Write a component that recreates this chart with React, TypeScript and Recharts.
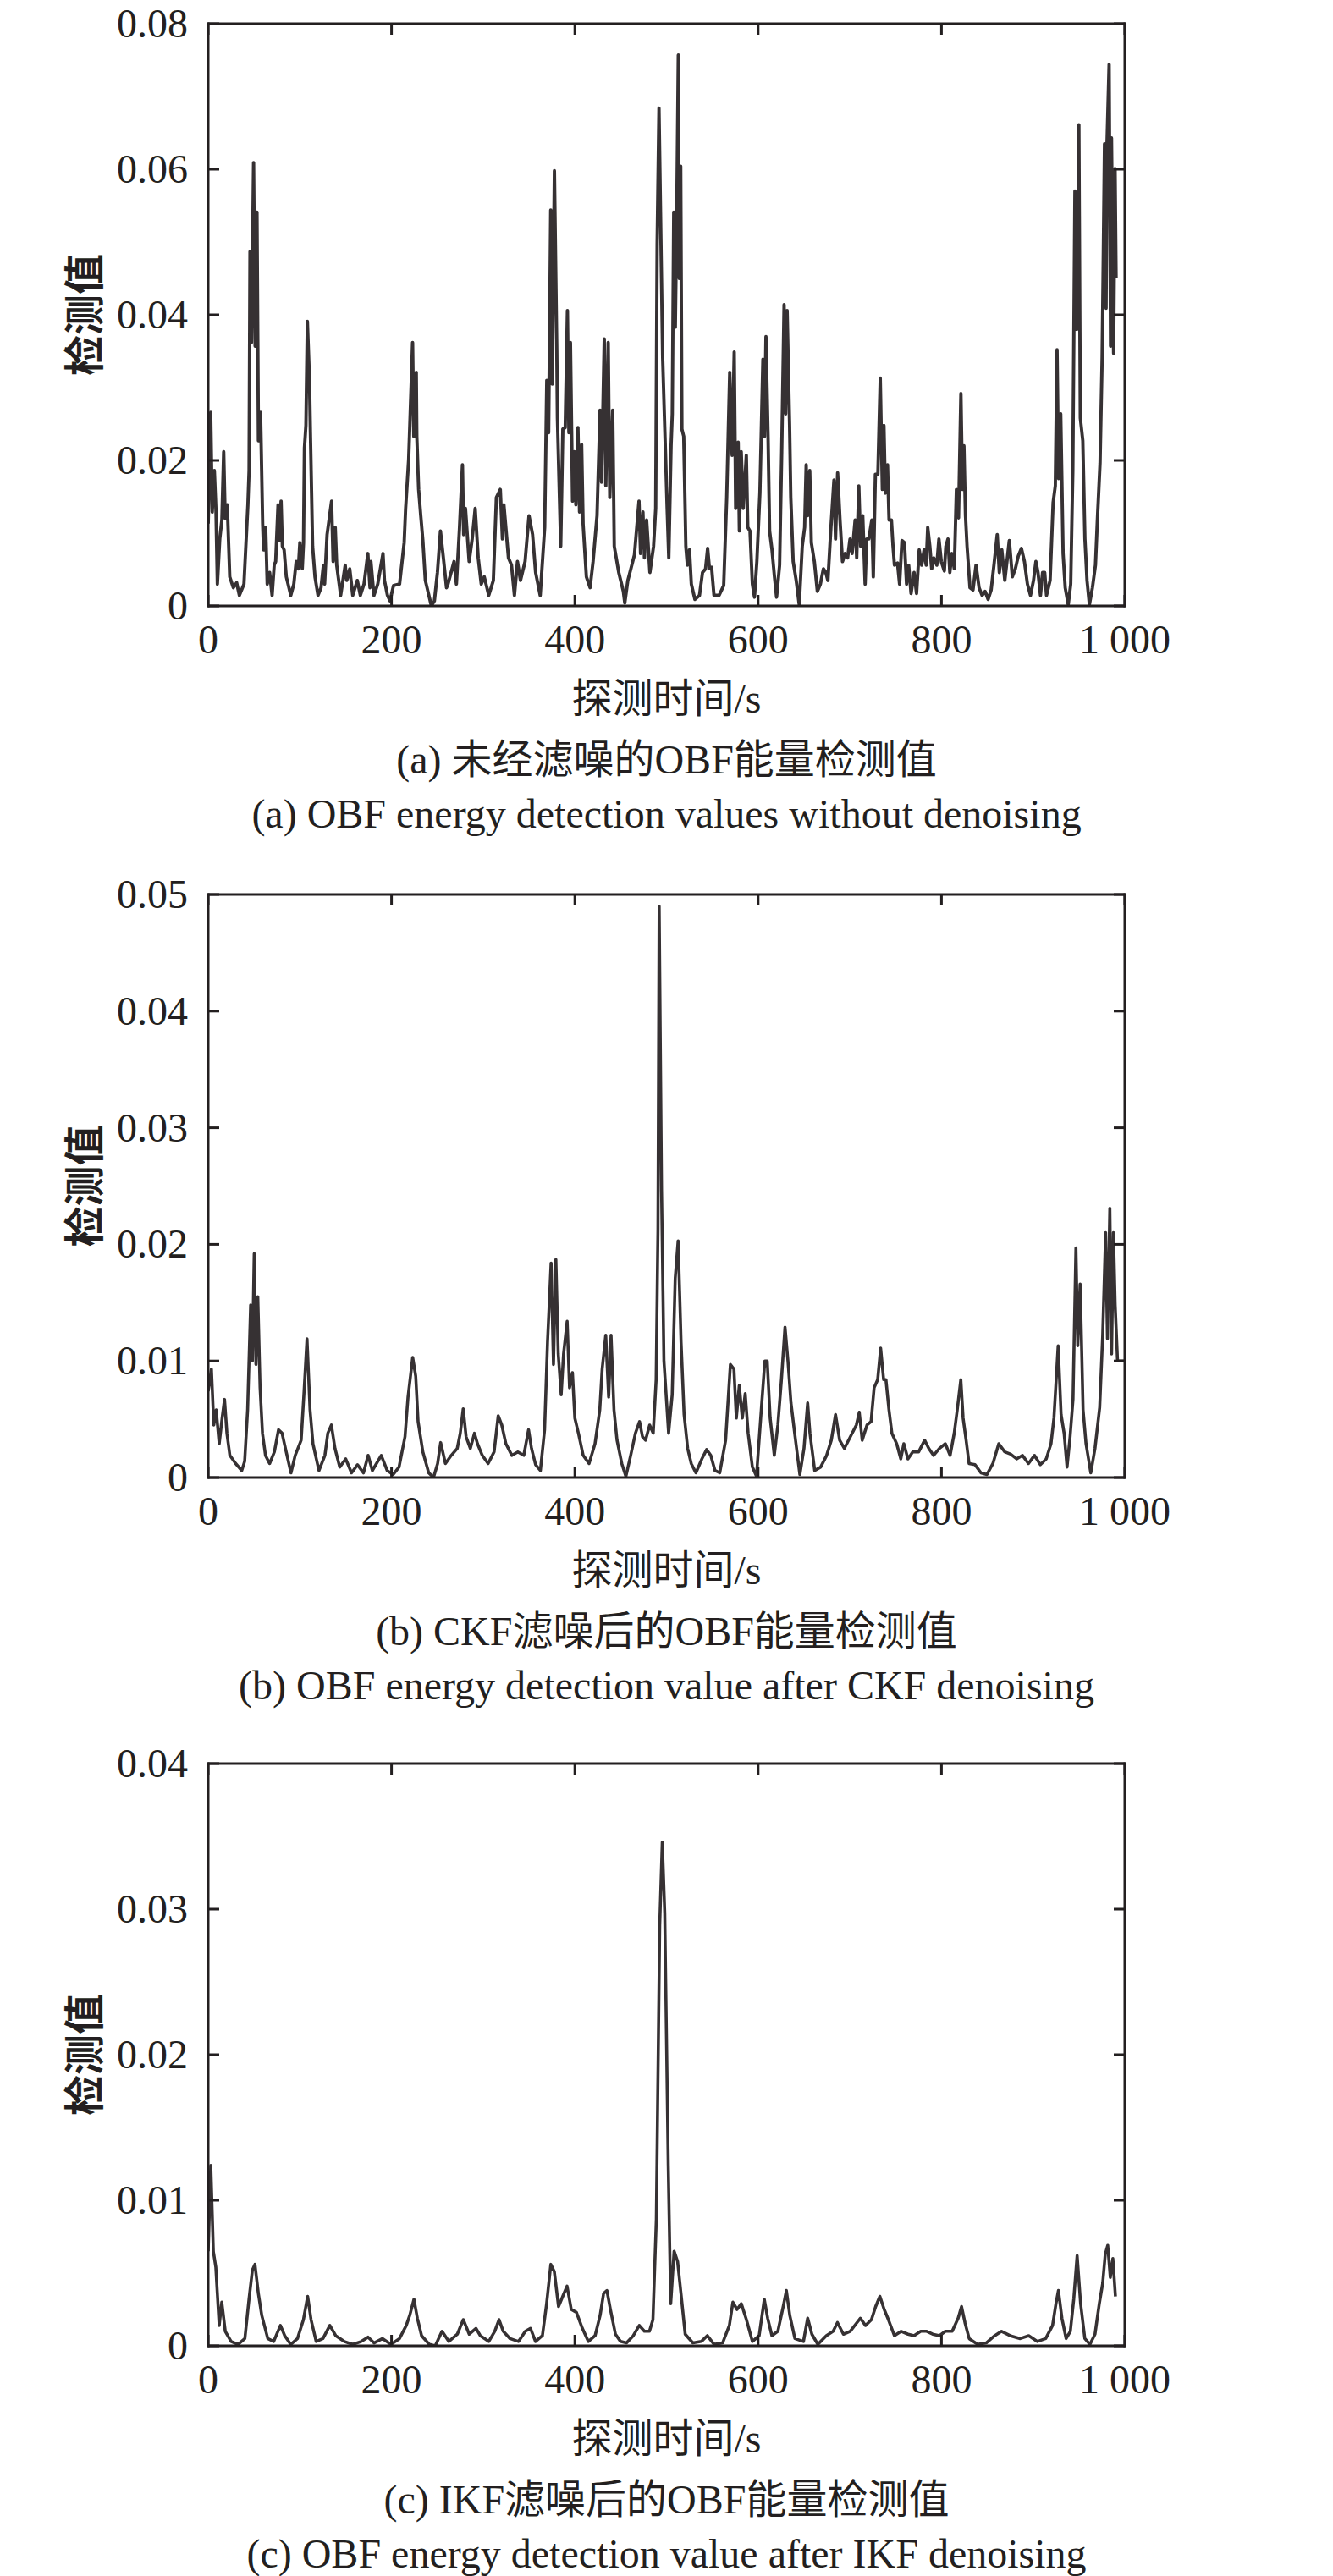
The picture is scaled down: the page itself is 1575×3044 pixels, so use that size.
import React from 'react';
import { LineChart, Line, XAxis, YAxis } from 'recharts';

// ---------- tick values & labels ----------
const X_TICKS = [0, 200, 400, 600, 800, 1000];
const X_TICK_LABELS = ['0', '200', '400', '600', '800', '1 000'];
const Y_TICKS_A = [0, 0.02, 0.04, 0.06, 0.08];
const Y_LABELS_A = ['0', '0.02', '0.04', '0.06', '0.08'];
const Y_TICKS_B = [0, 0.01, 0.02, 0.03, 0.04, 0.05];
const Y_LABELS_B = ['0', '0.01', '0.02', '0.03', '0.04', '0.05'];
const Y_TICKS_C = [0, 0.01, 0.02, 0.03, 0.04];
const Y_LABELS_C = ['0', '0.01', '0.02', '0.03', '0.04'];

const Y_TITLE = '检测值';
const X_TITLE = '探测时间/s';
const TITLES_ZH = ['(a) 未经滤噪的OBF能量检测值', '(b) CKF滤噪后的OBF能量检测值', '(c) IKF滤噪后的OBF能量检测值'];
const TITLES_EN = [
  '(a) OBF energy detection values without denoising',
  '(b) OBF energy detection value after CKF denoising',
  '(c) OBF energy detection value after IKF denoising',
];

// ---------- series: [time (s), detection value] ----------
const seriesA: [number, number][] = [
[0,0.0113],[2.7,0.0266],[4.4,0.0129],[6.7,0.0186],[8.5,0.013],[10,0.003],[12.6,0.0092],[14.9,0.0118],[16.9,0.0212],[18.5,0.012],[20.8,0.0139],[23.5,0.004],[27.4,0.0025],[31,0.0032],[34,0.00145],[39,0.003],[43.3,0.0139],[44.6,0.0186],[45.6,0.0487],[47.2,0.0362],[49.5,0.0609],[51.2,0.0357],[53.2,0.0541],[54.8,0.0227],[57.1,0.0266],[59.4,0.0113],[60.4,0.0077],[62.7,0.0108],[64.4,0.003],[67,0.0046],[69.7,0.00145],[72,0.0056],[73.6,0.0061],[76.2,0.0139],[77.6,0.009],[79.5,0.0144],[80.9,0.0082],[82.8,0.0077],[85.2,0.004],[90.1,0.00145],[93.4,0.003],[96,0.0061],[98.3,0.0051],[100,0.0087],[102.6,0.0051],[104,0.0087],[105,0.0217],[106.6,0.0248],[108.2,0.0391],[110.5,0.031],[111.5,0.0238],[113.9,0.0082],[116.5,0.004],[119.8,0.00145],[123.1,0.0025],[125.7,0.0056],[127,0.003],[129.7,0.0098],[134.6,0.0144],[136.3,0.0061],[138.6,0.0108],[140.2,0.0056],[144.5,0.00145],[149.5,0.0056],[151.1,0.0035],[154.4,0.0051],[157.7,0.00145],[162.7,0.0035],[166,0.00145],[170,0.003],[174.2,0.0072],[176.5,0.0025],[177.5,0.0061],[180.8,0.00145],[185,0.003],[190.7,0.0072],[192.3,0.0035],[195.6,0.00145],[198.3,0.0007],[202.2,0.0028],[208.8,0.003],[213.8,0.0087],[215.4,0.0134],[218.7,0.0201],[223,0.0362],[224.3,0.0233],[227,0.0321],[227.6,0.0233],[229.6,0.016],[231.9,0.0124],[234.2,0.009],[236.9,0.0035],[243.5,0],[246.8,0.0007],[250.1,0.0046],[253.4,0.0103],[256.6,0.0066],[260,0.0025],[261.6,0.003],[268.2,0.0061],[270.8,0.003],[274.1,0.0105],[277.4,0.0194],[278.7,0.0098],[280.7,0.0134],[284.7,0.0061],[288,0.0092],[291.3,0.0134],[294.6,0.0066],[297.9,0.003],[301.2,0.004],[306.1,0.00145],[311.1,0.0035],[314.4,0.0149],[318.7,0.016],[321,0.0092],[322.6,0.0139],[327.6,0.0066],[330.9,0.0056],[334.1,0.00145],[337.4,0.0061],[340.7,0.0035],[345.7,0.0061],[350,0.0124],[353.9,0.0098],[357.2,0.0046],[362.2,0.00145],[367.1,0.0108],[369.4,0.031],[371.4,0.0238],[373.7,0.0544],[375.4,0.0305],[377.7,0.0598],[380.3,0.0352],[381,0.0258],[384.6,0.0082],[386.9,0.0243],[389.5,0.0245],[391.9,0.0406],[393.5,0.0238],[395.2,0.0362],[397.5,0.0144],[399.5,0.0212],[401.1,0.0139],[403.4,0.0245],[405.1,0.0129],[407.4,0.0222],[409,0.0113],[412.6,0.004],[416.6,0.0025],[419.9,0.0061],[424.2,0.0124],[427.5,0.0269],[429.1,0.017],[432.1,0.0367],[433.8,0.0165],[436.4,0.0362],[438.1,0.0149],[441.3,0.0269],[443,0.0082],[447.9,0.0046],[452.9,0.002],[454.5,0.0004],[457.8,0.0035],[461.1,0.0051],[465,0.007],[470,0.0144],[471.7,0.0072],[474.3,0.0129],[475.9,0.0066],[478.3,0.0118],[481.9,0.0046],[485.9,0.0082],[488.2,0.0134],[489.8,0.0497],[491.8,0.0684],[495.8,0.0342],[500.7,0.0134],[502.5,0.0066],[505,0.022],[506.3,0.0264],[507.9,0.0541],[509.6,0.0383],[511.2,0.0539],[512.9,0.0757],[513.9,0.045],[515.5,0.0604],[516.8,0.0243],[518.8,0.0233],[521.1,0.0082],[522.8,0.0056],[525.1,0.0077],[527.1,0.003],[531,0.0009],[536,0.00145],[539.3,0.0046],[542.6,0.0051],[544.9,0.0079],[546.9,0.0051],[549.2,0.0053],[551.8,0.00145],[557.4,0.00145],[562.4,0.0028],[565.7,0.0149],[569,0.0321],[571.6,0.0207],[573.9,0.0349],[575.5,0.0134],[578.2,0.0225],[579.5,0.0103],[581.5,0.0212],[583.8,0.0134],[587.1,0.0207],[588.7,0.0108],[591.1,0.0103],[593.7,0.003],[596,0.0012],[598.6,0.0061],[601.9,0.0155],[605.2,0.0339],[606.9,0.0233],[608.5,0.037],[610.8,0.0233],[612.5,0.0103],[615.1,0.0077],[617.8,0.004],[620.1,0.0012],[623.4,0.0056],[625.7,0.0212],[628.3,0.0414],[630,0.0264],[631.6,0.0406],[634.3,0.0248],[635.6,0.0149],[638.2,0.0061],[641.5,0.0035],[644.8,0.0002],[648.1,0.0082],[650.7,0.0108],[652.4,0.0194],[654,0.0124],[656.3,0.0186],[658,0.0087],[661.3,0.0061],[664.6,0.002],[667.9,0.003],[671.2,0.0051],[673.8,0.0046],[676.1,0.0035],[679.4,0.0108],[682.7,0.0173],[684.4,0.0092],[686.7,0.0183],[689.3,0.0118],[692,0.0061],[694.9,0.0072],[697.6,0.0066],[700.2,0.0092],[702.5,0.0072],[705.8,0.0118],[707.5,0.0066],[709.8,0.0165],[711.8,0.0082],[714.1,0.0124],[716.7,0.003],[718.4,0.0092],[720.7,0.0092],[724,0.0118],[725.6,0.004],[727.9,0.0181],[730.6,0.0181],[733.2,0.0313],[735.5,0.016],[737.2,0.0248],[738.8,0.0155],[741.1,0.0194],[742.8,0.0118],[745.4,0.0118],[747.1,0.0082],[748.7,0.0056],[752,0.0059],[754.3,0.003],[756.9,0.009],[759.6,0.0087],[761.9,0.003],[764.2,0.0056],[766.8,0.0017],[770.1,0.0046],[772.8,0.0017],[775.7,0.0077],[778.4,0.0056],[781,0.0077],[783.3,0.0056],[785,0.0108],[787.3,0.0082],[789.3,0.0051],[791.6,0.0066],[794.9,0.0056],[797.2,0.0092],[799.8,0.0061],[803.1,0.0048],[804.8,0.0082],[807.1,0.0092],[809.1,0.0046],[811.4,0.0072],[814,0.0051],[816.3,0.016],[818.6,0.0121],[821.2,0.0292],[822.9,0.016],[824.5,0.022],[826.2,0.0124],[827.9,0.0082],[831.1,0.0025],[834.4,0.0022],[837.7,0.0056],[841,0.0025],[844.3,0.00145],[847.6,0.002],[850.9,0.0009],[854.2,0.0022],[857.5,0.0059],[860.8,0.0098],[863.1,0.0046],[865.8,0.0077],[869.1,0.0035],[871.7,0.0064],[874,0.009],[877.3,0.004],[880.6,0.0051],[883.9,0.0069],[887.2,0.0079],[890.5,0.0061],[893.8,0.003],[897.1,0.00145],[900.4,0.0035],[903,0.0061],[905.3,0.0046],[908,0.00145],[910.3,0.0046],[912.6,0.0046],[914.6,0.00145],[918.5,0.0035],[921.8,0.0142],[924.2,0.0165],[926.1,0.0352],[927.8,0.0175],[930.1,0.0264],[932.7,0.0072],[935,0.0025],[938.3,0.0002],[941,0.003],[943.3,0.0186],[945.6,0.057],[947.6,0.038],[949.9,0.0661],[951.5,0.0258],[954.2,0.0227],[956.5,0.0092],[958.8,0.0035],[961.4,0.0002],[964.7,0.0025],[968,0.0056],[970.3,0.0124],[973,0.0196],[975.3,0.0342],[976.3,0.045],[977.9,0.0635],[979.6,0.0409],[980.6,0.0635],[982.9,0.0744],[984.5,0.0357],[985.5,0.0643],[987.8,0.0347],[989.4,0.0601],[990.5,0.045]
];

const seriesB: [number, number][] = [
[0,0.0074],[3.5,0.0093],[6.1,0.0045],[8.7,0.0058],[12,0.0029],[15.2,0.0051],[17.8,0.0067],[20.4,0.0038],[23.6,0.0019],[30,0.0012],[36.6,0.0006],[39.8,0.0014],[43,0.0058],[46.3,0.0148],[48.2,0.01],[50.2,0.0192],[52.1,0.0097],[54.1,0.0155],[56.6,0.0077],[59.2,0.0038],[62.5,0.0019],[67,0.0012],[72.2,0.0022],[76.7,0.0041],[80.6,0.0038],[85.1,0.0022],[90.3,0.0004],[94.9,0.0019],[101.4,0.0032],[104.6,0.0074],[107.8,0.0119],[111.1,0.0058],[114.3,0.0029],[120.8,0.0006],[127.3,0.0019],[130.5,0.0038],[134.4,0.0045],[138.3,0.0025],[143.5,0.0009],[150,0.0016],[156.4,0.0004],[162.9,0.0011],[169.4,0.0004],[174.5,0.0019],[179.1,0.0006],[188.8,0.0019],[195.3,0.0006],[201.8,0.00026],[208.2,0.0009],[214.7,0.0035],[218,0.0069],[223.1,0.0103],[226.4,0.0087],[229,0.0048],[234.2,0.0022],[240.6,0.0004],[245.8,0],[250.3,0.0012],[253.6,0.003],[258.8,0.0012],[265.2,0.0019],[271.7,0.0025],[275,0.0038],[278.2,0.0059],[281.4,0.0035],[286,0.0025],[290.5,0.0038],[293.8,0.0029],[299,0.0019],[305.4,0.0012],[311.9,0.0022],[316.4,0.0053],[320.3,0.0045],[324.8,0.0029],[331.3,0.0019],[337.8,0.0022],[344.3,0.0019],[349.5,0.0041],[352.7,0.0025],[357.2,0.0011],[362.4,0.0006],[367,0.0041],[370.2,0.0116],[374.1,0.0184],[376.7,0.0097],[379.3,0.0187],[381.9,0.0106],[385.1,0.0071],[387.7,0.0106],[391.6,0.0134],[394.2,0.0077],[397.4,0.009],[400,0.0051],[403.9,0.0038],[409.1,0.0019],[415.5,0.0012],[422,0.0029],[427.2,0.0058],[429.8,0.0093],[433.7,0.0122],[436.9,0.0069],[439.5,0.0122],[442.7,0.0058],[446,0.0032],[451.2,0.0012],[455.7,0.0001],[460.9,0.0019],[466.1,0.0038],[470.6,0.0048],[473.8,0.0035],[477.1,0.0032],[481.6,0.0045],[485.5,0.0038],[488.7,0.0084],[490.7,0.0213],[492,0.049],[494.6,0.0246],[497.2,0.01],[502.3,0.0038],[506.2,0.0071],[509.5,0.0171],[512.7,0.0203],[515.9,0.0116],[519.2,0.0054],[523.1,0.0025],[527,0.0012],[532.1,0.0004],[538.6,0.0016],[543.8,0.0024],[548.3,0.0019],[552.9,0.0006],[558.1,0.0004],[564.5,0.0032],[569.7,0.0097],[573.6,0.0093],[576.2,0.0051],[579.4,0.0079],[582.7,0.0051],[585.9,0.0072],[589.1,0.0038],[593.7,0.0009],[598.2,0.0001],[603.4,0.0058],[607.3,0.01],[609.9,0.01],[613.1,0.0051],[617.6,0.0019],[621.5,0.0045],[625.4,0.0084],[629.3,0.0129],[632.5,0.01],[635.8,0.0064],[640.3,0.0035],[645.5,0.00026],[650,0.0025],[654,0.0064],[656.5,0.0038],[661.7,0.0006],[668.2,0.0009],[674.7,0.0019],[679.8,0.0032],[684.4,0.0054],[688.9,0.0032],[694.1,0.0025],[700.6,0.0035],[707.1,0.0045],[710.3,0.0056],[713.5,0.0032],[718.7,0.0045],[723.2,0.0048],[726.5,0.0077],[730.4,0.0084],[733.6,0.0111],[736.9,0.0084],[739.4,0.0084],[742.7,0.0058],[745.9,0.0038],[751.1,0.0029],[755.6,0.0016],[758.9,0.0029],[763.4,0.0016],[768.6,0.0022],[775.1,0.0022],[781.6,0.0032],[786.1,0.0025],[791.3,0.0019],[797.7,0.0025],[804.2,0.0029],[809.4,0.0019],[813.9,0.0038],[817.2,0.0058],[821.1,0.0084],[823.6,0.0051],[826.9,0.0032],[830.1,0.0012],[836.6,0.0011],[843.1,0.0004],[849.6,0.00026],[856.1,0.0012],[862.5,0.0029],[869,0.0022],[875.5,0.002],[882,0.0016],[888.4,0.0019],[894.9,0.0012],[901.4,0.0019],[907.9,0.0011],[914.3,0.0016],[919.5,0.0029],[922.7,0.0051],[927.3,0.0113],[930.5,0.0054],[933.8,0.0038],[937,0.0009],[940.3,0.0035],[943.5,0.0067],[946.7,0.0197],[948.7,0.0113],[951.3,0.0166],[954.5,0.0058],[957.7,0.0029],[962.9,0.0004],[967.5,0.0025],[972.6,0.006],[975.9,0.0122],[979.1,0.021],[981.1,0.0119],[983.7,0.0231],[985.6,0.0106],[987.6,0.021],[989.5,0.0148],[992.1,0.01],[1000,0.01]
];

const seriesC: [number, number][] = [
[0,0.0065],[2.8,0.0124],[5.6,0.0065],[8.3,0.0054],[12,0.0014],[14.8,0.003],[18.6,0.001],[25,0.0003],[32.5,0.0001],[40,0.0005],[44.5,0.0032],[48.2,0.0052],[51,0.0056],[54.7,0.0036],[58.4,0.0021],[65,0.0005],[71.4,0.0003],[78.8,0.0014],[83.5,0.0007],[90,0.0001],[97.4,0.0005],[103.9,0.0018],[108.5,0.0034],[112.2,0.0018],[117.8,0.0003],[125.2,0.0005],[132.7,0.0014],[139.1,0.0007],[148.4,0.0003],[157.7,0.0001],[167,0.0003],[174.4,0.0006],[180.9,0.0002],[190.2,0.0005],[199.4,0.0001],[208.7,0.0005],[216.1,0.0014],[219.9,0.0021],[224.5,0.0032],[228.2,0.0019],[232.8,0.0007],[241.2,0.0001],[247.7,0],[255.1,0.001],[262.5,0.0003],[271.8,0.0008],[278.3,0.0018],[284.8,0.0008],[292.2,0.0012],[296.8,0.0007],[306.1,0.0003],[312.6,0.001],[317.3,0.0018],[321.9,0.001],[329.3,0.0005],[338.6,0.0003],[346,0.001],[351.6,0.0012],[357.1,0.0003],[364.6,0.0007],[369.2,0.0029],[373.8,0.0056],[377.6,0.0051],[382.2,0.0027],[386.8,0.0034],[391.5,0.0041],[396.1,0.0025],[401.7,0.0023],[408.2,0.0012],[414.7,0.0003],[422.1,0.0007],[427.6,0.0021],[431.4,0.0036],[435,0.0038],[438.8,0.0025],[444.3,0.0008],[449.9,0.0003],[456.4,0.0002],[463.8,0.0007],[470.3,0.0014],[475.9,0.001],[481.4,0.001],[485.2,0.0018],[488.9,0.0087],[492.6,0.0289],[495.4,0.0346],[498.1,0.0297],[501.9,0.0124],[504.6,0.0029],[508.3,0.0065],[512.1,0.0058],[515.8,0.0036],[520.4,0.0008],[528.8,0.0002],[538,0.0003],[544.5,0.0007],[552,0.0001],[561.2,0.0002],[568.6,0.0014],[572.4,0.003],[577,0.0025],[581.6,0.0029],[587.2,0.0018],[593.7,0.0003],[601.1,0.0007],[606.7,0.0032],[610.4,0.0019],[615,0.0007],[621.5,0.001],[628,0.0029],[630.8,0.0038],[634.5,0.0021],[640.1,0.0005],[649.4,0.0003],[654,0.0019],[658.6,0.0008],[665.1,0.0001],[674.4,0.0007],[681.8,0.001],[686.5,0.0016],[693,0.0008],[700.4,0.001],[707.8,0.0016],[711.5,0.0019],[717.1,0.0014],[723.6,0.0018],[728.2,0.0027],[732.8,0.0034],[737.5,0.0025],[742.1,0.0018],[748.6,0.0007],[756,0.001],[763.5,0.0008],[770,0.0007],[777.4,0.001],[783.9,0.001],[790.4,0.0008],[797.8,0.0007],[804.3,0.001],[811.7,0.001],[818.2,0.0019],[821.9,0.0027],[825.6,0.0016],[830.2,0.0005],[839.5,0.0001],[848.8,0.0002],[858.1,0.0007],[865.5,0.001],[874.8,0.0007],[885.9,0.0005],[895.2,0.0007],[904.5,0.0003],[913.7,0.0005],[921.2,0.0014],[924.9,0.0029],[927.6,0.0038],[931.4,0.0019],[936,0.0005],[940.6,0.001],[944.3,0.0032],[948,0.0062],[951.8,0.0029],[956.4,0.0005],[962,0.0001],[967.5,0.0008],[972.2,0.0029],[975.9,0.0043],[978.7,0.0063],[981.4,0.0069],[984.2,0.0047],[987,0.006],[989.8,0.0034]
];

// ---------- layout & style ----------
const W = 1575;
const LEFT = 246;
const RIGHT = 1329;
const CENTER_X = (LEFT + RIGHT) / 2;
const TICK_LEN = 13;
const AXIS_SIZE = 1;
const INK = '#231f20';
const LINE_COLOR = '#363133';
const SERIF = '"Liberation Serif", "Times New Roman", "Noto Sans CJK SC", serif';
const CJK_BOLD = '"Noto Sans CJK SC", sans-serif';
const FS = 48;

type PanelProps = {
  top: number;
  height: number;
  plotTop: number;
  plotBottom: number;
  series: [number, number][];
  yTicks: number[];
  yLabels: string[];
  strokeWidth: number;
};

function Panel({ top, height, plotTop, plotBottom, series, yTicks, yLabels, strokeWidth }: PanelProps) {
  const rows = series.map(([t, v]) => ({ t, v }));
  const yMax = yTicks[yTicks.length - 1];
  const axisLine = { stroke: INK, strokeWidth: 3, strokeLinecap: 'square' as const };

  const leftTick = (p: any) => {
    const i = yTicks.indexOf(p.payload.value);
    return (
      <g>
        <line x1={LEFT} x2={LEFT + TICK_LEN} y1={p.y} y2={p.y} stroke={INK} strokeWidth={3} />
        <text x={LEFT - 24} y={p.y} dy={16} textAnchor="end" fontFamily={SERIF} fontSize={FS} fill={INK}>
          {yLabels[i]}
        </text>
      </g>
    );
  };
  const rightTick = (p: any) => (
    <line x1={RIGHT} x2={RIGHT - TICK_LEN} y1={p.y} y2={p.y} stroke={INK} strokeWidth={3} />
  );
  const bottomTick = (p: any) => {
    const i = X_TICKS.indexOf(p.payload.value);
    return (
      <g>
        <line x1={p.x} x2={p.x} y1={plotBottom} y2={plotBottom - TICK_LEN} stroke={INK} strokeWidth={3} />
        <text x={p.x} y={plotBottom + 56} textAnchor="middle" fontFamily={SERIF} fontSize={FS} fill={INK}>
          {X_TICK_LABELS[i]}
        </text>
      </g>
    );
  };
  const topTick = (p: any) => (
    <line x1={p.x} x2={p.x} y1={plotTop} y2={plotTop + TICK_LEN} stroke={INK} strokeWidth={3} />
  );

  return (
    <div style={{ position: 'absolute', left: 0, top, width: W, height }}>
      <LineChart
        width={W}
        height={height}
        data={rows}
        margin={{
          top: plotTop - AXIS_SIZE,
          right: W - RIGHT - AXIS_SIZE,
          bottom: height - plotBottom - AXIS_SIZE,
          left: LEFT - AXIS_SIZE,
        }}
      >
        <XAxis
          xAxisId="b"
          dataKey="t"
          type="number"
          orientation="bottom"
          domain={[0, 1000]}
          ticks={X_TICKS}
          interval={0}
          height={AXIS_SIZE}
          tickSize={0}
          tickMargin={0}
          tick={bottomTick}
          axisLine={axisLine}
          allowDataOverflow
        />
        <XAxis
          xAxisId="t"
          dataKey="t"
          type="number"
          orientation="top"
          domain={[0, 1000]}
          ticks={X_TICKS}
          interval={0}
          height={AXIS_SIZE}
          tickSize={0}
          tickMargin={0}
          tick={topTick}
          axisLine={axisLine}
          allowDataOverflow
        />
        <YAxis
          yAxisId="l"
          dataKey="v"
          type="number"
          orientation="left"
          domain={[0, yMax]}
          ticks={yTicks}
          interval={0}
          width={AXIS_SIZE}
          tickSize={0}
          tickMargin={0}
          tick={leftTick}
          axisLine={axisLine}
          allowDataOverflow
        />
        <YAxis
          yAxisId="r"
          dataKey="v"
          type="number"
          orientation="right"
          domain={[0, yMax]}
          ticks={yTicks}
          interval={0}
          width={AXIS_SIZE}
          tickSize={0}
          tickMargin={0}
          tick={rightTick}
          axisLine={axisLine}
          allowDataOverflow
        />
        <Line
          xAxisId="b"
          yAxisId="l"
          dataKey="v"
          type="linear"
          stroke={LINE_COLOR}
          strokeWidth={strokeWidth}
          strokeLinejoin="round"
          dot={false}
          activeDot={false}
          isAnimationActive={false}
        />
      </LineChart>
    </div>
  );
}

const PANELS = [
  { top: 0, height: 840, plotTop: 28, plotBottom: 716, series: seriesA, yTicks: Y_TICKS_A, yLabels: Y_LABELS_A, strokeWidth: 3.9 },
  { top: 1000, height: 850, plotTop: 57, plotBottom: 746, series: seriesB, yTicks: Y_TICKS_B, yLabels: Y_LABELS_B, strokeWidth: 3.6 },
  { top: 2030, height: 850, plotTop: 54, plotBottom: 742, series: seriesC, yTicks: Y_TICKS_C, yLabels: Y_LABELS_C, strokeWidth: 3.6 },
];

export default function App() {
  return (
    <div style={{ position: 'absolute', left: 0, top: 0, width: W, height: 3044, background: '#fff', overflow: 'hidden' }}>
      {PANELS.map((p, i) => (
        <Panel key={i} {...p} />
      ))}
      <svg width={W} height={3044} style={{ position: 'absolute', left: 0, top: 0, pointerEvents: 'none' }}>
        {PANELS.map((p, i) => {
          const gTop = p.top + p.plotTop;
          const gBottom = p.top + p.plotBottom;
          return (
            <g key={i}>
              <text
                transform={`translate(96, ${(gTop + gBottom) / 2}) rotate(-90)`}
                textAnchor="middle"
                dominantBaseline="central"
                fontFamily={CJK_BOLD}
                fontWeight={700}
                fontSize={48}
                fill={INK}
              >
                {Y_TITLE}
              </text>
              <text x={CENTER_X} y={gBottom + 109} textAnchor="middle" dominantBaseline="central" fontFamily={SERIF} fontSize={FS} fill={INK}>
                {X_TITLE}
              </text>
              <text x={CENTER_X} y={gBottom + 181} textAnchor="middle" dominantBaseline="central" fontFamily={SERIF} fontSize={FS} fill={INK}>
                {TITLES_ZH[i]}
              </text>
              <text x={CENTER_X} y={gBottom + 245} textAnchor="middle" dominantBaseline="central" fontFamily={SERIF} fontSize={FS} fill={INK}>
                {TITLES_EN[i]}
              </text>
            </g>
          );
        })}
      </svg>
    </div>
  );
}
